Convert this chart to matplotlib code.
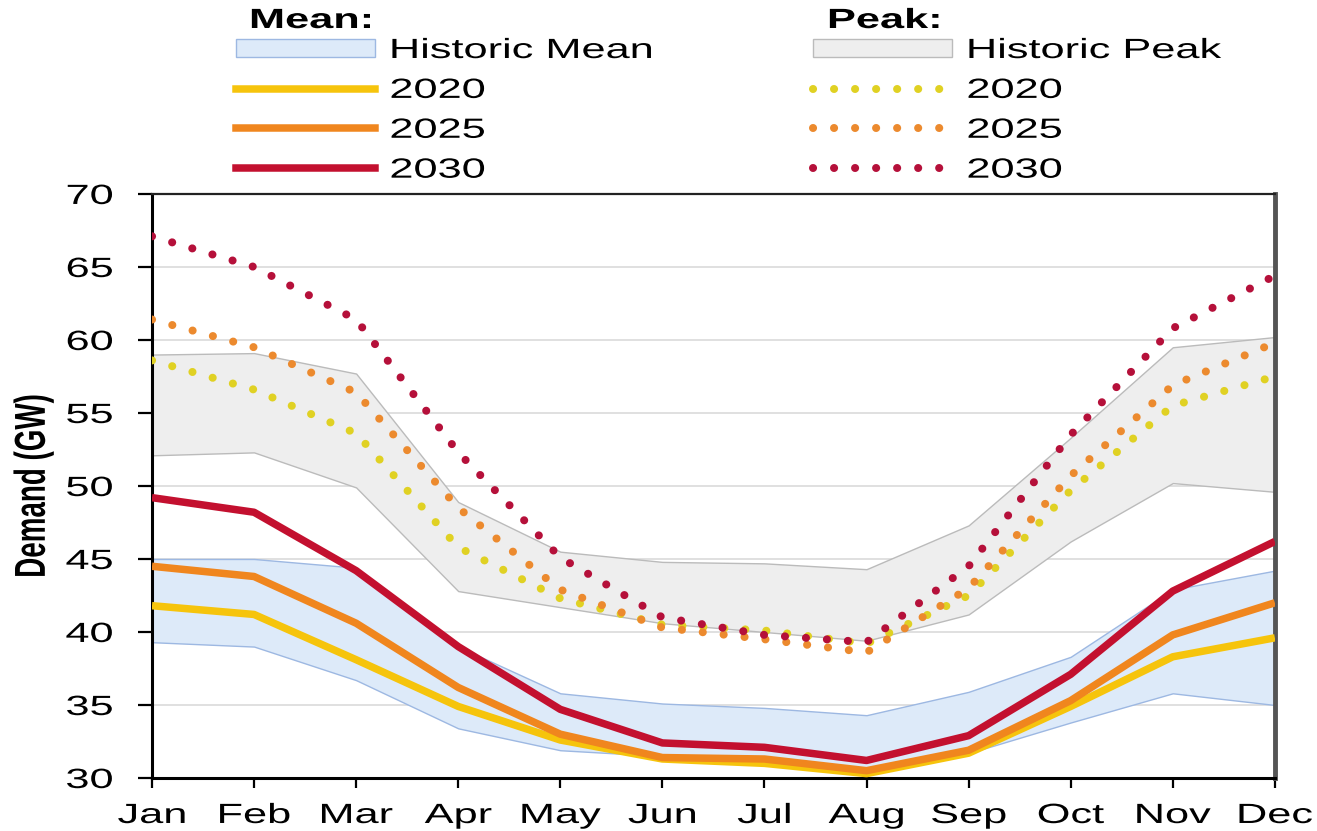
import matplotlib
matplotlib.use("Agg")
import matplotlib.pyplot as plt
from matplotlib.lines import Line2D
from matplotlib.patches import Patch
from matplotlib.patheffects import AbstractPathEffect
from matplotlib.transforms import Affine2D

plt.rcParams['font.family'] = ['Liberation Sans', 'DejaVu Sans']

months = ["Jan", "Feb", "Mar", "Apr", "May", "Jun", "Jul", "Aug", "Sep", "Oct", "Nov", "Dec"]

# Historic ranges (GW)
hist_mean_low = [39.3, 39.0, 36.7, 33.4, 31.9, 31.5, 31.2, 30.2, 31.7, 33.8, 35.8, 35.0]
hist_mean_high = [45.0, 45.0, 44.4, 39.0, 35.8, 35.1, 34.8, 34.3, 35.9, 38.3, 42.9, 44.2]
hist_peak_low = [52.1, 52.3, 49.9, 42.8, 41.7, 40.6, 40.0, 39.4, 41.2, 46.2, 50.2, 49.6]
hist_peak_high = [59.0, 59.1, 57.7, 48.9, 45.5, 44.8, 44.7, 44.3, 47.3, 53.3, 59.5, 60.2]

# Projected mean demand (GW)
mean_2020 = [41.8, 41.2, 38.1, 34.9, 32.6, 31.3, 31.0, 30.3, 31.7, 34.9, 38.3, 39.6]
mean_2025 = [44.5, 43.8, 40.6, 36.2, 33.0, 31.4, 31.3, 30.5, 31.9, 35.3, 39.8, 42.0]
mean_2030 = [49.2, 48.2, 44.2, 39.0, 34.7, 32.4, 32.1, 31.2, 32.9, 37.1, 42.8, 46.2]

# Projected peak demand (GW)
peak_2020 = [58.6, 56.6, 53.6, 45.8, 42.3, 40.5, 40.1, 39.2, 42.5, 49.7, 55.5, 57.5]
peak_2025 = [61.4, 59.5, 56.4, 48.5, 42.9, 40.3, 39.5, 38.6, 43.0, 50.7, 56.9, 59.8]
peak_2030 = [67.1, 65.0, 61.4, 52.3, 45.1, 41.0, 39.8, 39.3, 44.5, 53.5, 60.8, 64.4]

mean_labels = ["Historic Mean", "2020", "2025", "2030"]
peak_labels = ["Historic Peak", "2020", "2025", "2030"]

c2020, c2025, c2030 = "#F6C40C", "#F0861E", "#C3102F"
d2020, d2025, d2030 = "#E0D123", "#EC8A2E", "#B5103A"
blue_fill, blue_edge = "#DDEAF9", "#9DB8E2"
grey_fill, grey_edge = "#EEEEEE", "#BBBBBB"

FS = 20          # text size (pt)
WIDE = 1.56      # horizontal widening applied to the lettering


class WideText(AbstractPathEffect):
    """Render text glyphs widened horizontally around a chosen pivot."""

    def __init__(self, sx, pivot="center"):
        super().__init__()
        self.sx = sx
        self.pivot = pivot

    def draw_path(self, renderer, gc, tpath, affine, rgbFace=None):
        ext = tpath.get_extents(affine)
        if self.pivot == "left":
            px = ext.x0
        elif self.pivot == "right":
            px = ext.x1
        else:
            px = 0.5 * (ext.x0 + ext.x1)
        t = affine + Affine2D().translate(-px, 0).scale(self.sx, 1).translate(px, 0)
        renderer.draw_path(gc, tpath, t, rgbFace)


def widen(text, pivot):
    text.set_path_effects([WideText(WIDE, pivot)])


fig = plt.figure(figsize=(13.17, 8.31), dpi=100)
ax = fig.add_axes([0.1154, 0.0638, 0.8526, 0.7028])

x = list(range(len(months)))

ax.fill_between(x, hist_peak_low, hist_peak_high, facecolor=grey_fill,
                edgecolor=grey_edge, linewidth=1.0, zorder=1)
ax.fill_between(x, hist_mean_low, hist_mean_high, facecolor=blue_fill,
                edgecolor=blue_edge, linewidth=1.0, zorder=1)

dot_style = (0, (0.01, 2.6))
for vals, col in [(peak_2020, d2020), (peak_2025, d2025), (peak_2030, d2030)]:
    ax.plot(x, vals, color=col, linewidth=5.8, linestyle=dot_style,
            dash_capstyle="round", zorder=3)

for vals, col in [(mean_2020, c2020), (mean_2025, c2025), (mean_2030, c2030)]:
    ax.plot(x, vals, color=col, linewidth=5.4, solid_joinstyle="round",
            solid_capstyle="butt", zorder=4)

ax.set_xlim(0, 11)
ax.set_ylim(30, 70)
ax.set_yticks(range(30, 71, 5))
ax.set_xticks(x)
ax.set_xticklabels(months)
ax.yaxis.grid(True, color="#DADADA", linewidth=1.2, zorder=0)
ax.set_axisbelow(True)
ax.tick_params(axis="both", labelsize=FS, colors="black", direction="out", width=1.6)
ax.tick_params(axis="y", length=10, pad=18)
ax.tick_params(axis="x", length=7, pad=11)

for lab in ax.get_yticklabels():
    widen(lab, "right")
for lab in ax.get_xticklabels():
    widen(lab, "center")

for side in ["left", "bottom"]:
    ax.spines[side].set_linewidth(2.2)
    ax.spines[side].set_color("black")
ax.spines["top"].set_linewidth(1.6)
ax.spines["top"].set_color("#222222")
ax.spines["right"].set_linewidth(3.5)
ax.spines["right"].set_color("#555555")

ax.set_ylabel("Demand (GW)", fontsize=FS, fontweight="bold")
ax.yaxis.set_label_coords((47 - 152) / 1121, 0.5)
widen(ax.yaxis.label, "center")

mean_handles = [
    Patch(facecolor=blue_fill, edgecolor=blue_edge, linewidth=1.0),
    Line2D([], [], color=c2020, linewidth=5.4),
    Line2D([], [], color=c2025, linewidth=5.4),
    Line2D([], [], color=c2030, linewidth=5.4),
]
peak_handles = [
    Patch(facecolor=grey_fill, edgecolor=grey_edge, linewidth=1.0),
    Line2D([], [], color=d2020, linewidth=5.8, linestyle=dot_style, dash_capstyle="round"),
    Line2D([], [], color=d2025, linewidth=5.8, linestyle=dot_style, dash_capstyle="round"),
    Line2D([], [], color=d2030, linewidth=5.8, linestyle=dot_style, dash_capstyle="round"),
]

leg_kw = dict(loc="upper left", frameon=False, fontsize=FS,
              handlelength=5.0, handleheight=0.62, handletextpad=0.55,
              labelspacing=0.5, borderpad=0, borderaxespad=0)

leg1 = fig.legend(mean_handles, mean_labels,
                  bbox_to_anchor=(236 / 1317, 1 - 38 / 831), **leg_kw)
leg2 = fig.legend(peak_handles, peak_labels,
                  bbox_to_anchor=(813 / 1317, 1 - 38 / 831), **leg_kw)
for leg in (leg1, leg2):
    for t in leg.get_texts():
        widen(t, "left")

t1 = fig.text(250 / 1317, 1 - 21 / 831, "Mean:", fontsize=FS, fontweight="bold",
              ha="left", va="center")
t2 = fig.text(828 / 1317, 1 - 21 / 831, "Peak:", fontsize=FS, fontweight="bold",
              ha="left", va="center")
widen(t1, "left")
widen(t2, "left")

fig.savefig("out.png", dpi=100)
